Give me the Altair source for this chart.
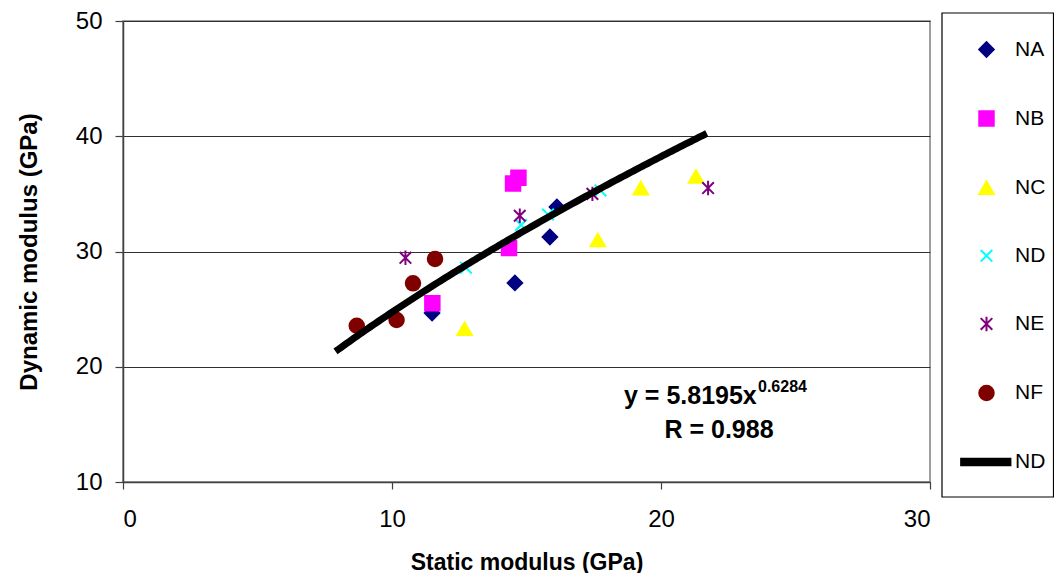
import altair as alt
import pandas as pd

series_names = ["NA", "NB", "NC", "ND", "NE", "NF"]
na_x = [11.49, 14.57, 15.87, 16.13]
na_y = [24.66, 27.27, 31.26, 33.86]
nb_x = [11.5, 14.35, 14.5, 14.7]
nb_y = [25.5, 30.3, 35.9, 36.4]
nc_x = [12.7, 17.65, 19.25, 21.3]
nc_y = [23.3, 31.0, 35.5, 36.5]
nd_x = [12.75, 14.8, 15.8, 17.75]
nd_y = [28.6, 32.3, 33.2, 35.3]
ne_x = [10.5, 14.75, 17.45, 21.75]
ne_y = [29.45, 33.1, 35.0, 35.5]
nf_x = [8.69, 10.17, 10.78, 11.6]
nf_y = [23.56, 24.06, 27.24, 29.35]

# power-law trend line as printed on the chart: y = a * x^b
fit_name = "Fit"
fit_label = "ND"
fit_a = 5.8195
fit_b = 0.6284
fit_extent = [7.9, 21.7]
x_ticks = [0, 10, 20, 30]
y_ticks = [10, 20, 30, 40, 50]
eq_main = "y = 5.8195x"
eq_exp = "0.6284"
r_text = "R = 0.988"

xs = [na_x, nb_x, nc_x, nd_x, ne_x, nf_x]
ys = [na_y, nb_y, nc_y, nd_y, ne_y, nf_y]
rows = []
for name, sx, sy in zip(series_names, xs, ys):
    for a, b in zip(sx, sy):
        rows.append({"series": name, "x": a, "y": b})
df = pd.DataFrame(rows)
one = pd.DataFrame({"k": [0]})

FONT = "Liberation Sans"
domain = series_names + [fit_name]
colors = ["#000080", "#FF00FF", "#FFFF00", "#00FFFF", "#800080", "#800000", "#000000"]
shapes = [
    "diamond",
    "square",
    "triangle-up",
    "M-0.8,-0.8L0.8,0.8M-0.8,0.8L0.8,-0.8",
    "M-0.8,-0.8L0.8,0.8M-0.8,0.8L0.8,-0.8M0,-1L0,1",
    "circle",
    "M-3.5,-0.45H3.3V0.45H-3.5Z",
]

xscale = alt.Scale(domain=[0, 30], nice=False, zero=False)
yscale = alt.Scale(domain=[10, 50], nice=False, zero=False)

legend = alt.Legend(
    title=None,
    orient="none",
    legendX=853,
    legendY=18,
    padding=0,
    rowPadding=46.1,
    symbolSize=210,
    symbolStrokeWidth=2,
    labelOffset=18,
    labelFont=FONT,
    labelFontSize=21,
    labelColor="black",
    labelExpr=f"datum.label == '{fit_name}' ? '{fit_label}' : datum.label",
)

points = alt.Chart(df).mark_point(filled=True, size=210, strokeWidth=2, opacity=1).encode(
    x=alt.X(
        "x:Q",
        scale=xscale,
        axis=alt.Axis(
            values=x_ticks,
            title="Static modulus  (GPa)",
            grid=False,
            tickSize=7,
            labelPadding=18,
            titlePadding=20,
        ),
    ),
    y=alt.Y(
        "y:Q",
        scale=yscale,
        axis=alt.Axis(
            values=y_ticks,
            title="Dynamic modulus (GPa)",
            grid=True,
            tickSize=8,
            labelPadding=13,
            titlePadding=34,
        ),
    ),
    color=alt.Color("series:N", scale=alt.Scale(domain=domain, range=colors), legend=legend),
    stroke=alt.Stroke("series:N", scale=alt.Scale(domain=domain, range=colors), legend=legend),
    shape=alt.Shape("series:N", scale=alt.Scale(domain=domain, range=shapes), legend=legend),
)

trend = alt.Chart(alt.sequence(fit_extent[0], fit_extent[1] + 0.05, 0.1, as_="x")).transform_calculate(
    y=f"{fit_a} * pow(datum.x, {fit_b})"
).mark_line(color="black", strokeWidth=7, strokeCap="butt").encode(
    x=alt.X("x:Q", scale=xscale),
    y=alt.Y("y:Q", scale=yscale),
)

frame = alt.Chart(one).mark_rect(fill=None, stroke="#000000", strokeWidth=1.2, clip=False).encode(
    x=alt.value(819),
    x2=alt.value(930.5),
    y=alt.value(-8),
    y2=alt.value(476),
)

txt_main = alt.Chart(one).mark_text(
    text=eq_main, font=FONT, fontSize=25, fontWeight="bold", align="left", baseline="alphabetic", color="black"
).encode(x=alt.value(501), y=alt.value(383))
txt_exp = alt.Chart(one).mark_text(
    text=eq_exp, font=FONT, fontSize=16, fontWeight="bold", align="left", baseline="alphabetic", color="black"
).encode(x=alt.value(635), y=alt.value(370.5))
txt_r = alt.Chart(one).mark_text(
    text=r_text, font=FONT, fontSize=25, fontWeight="bold", align="center", baseline="alphabetic", color="black"
).encode(x=alt.value(596), y=alt.value(416.5))

chart = alt.layer(points, trend, frame, txt_main, txt_exp, txt_r).properties(
    width=807,
    height=461,
    autosize=alt.AutoSizeParams(type="none"),
    padding={"left": 123, "top": 21, "right": 124, "bottom": 91},
    background="white",
).configure_view(
    stroke="#808080", strokeWidth=1.5
).configure_axis(
    labelFont=FONT,
    labelFontSize=24,
    labelColor="black",
    titleFont=FONT,
    titleColor="black",
    titleFontWeight="bold",
    domainColor="#404040",
    domainWidth=1.5,
    tickColor="#404040",
    tickWidth=1.2,
    gridColor="#303030",
    gridWidth=1,
    gridOpacity=1,
).configure_axisX(
    titleFontSize=23
).configure_axisY(
    titleFontSize=24
)

chart.save("out.html", embed_options={"renderer": "svg", "actions": False})
